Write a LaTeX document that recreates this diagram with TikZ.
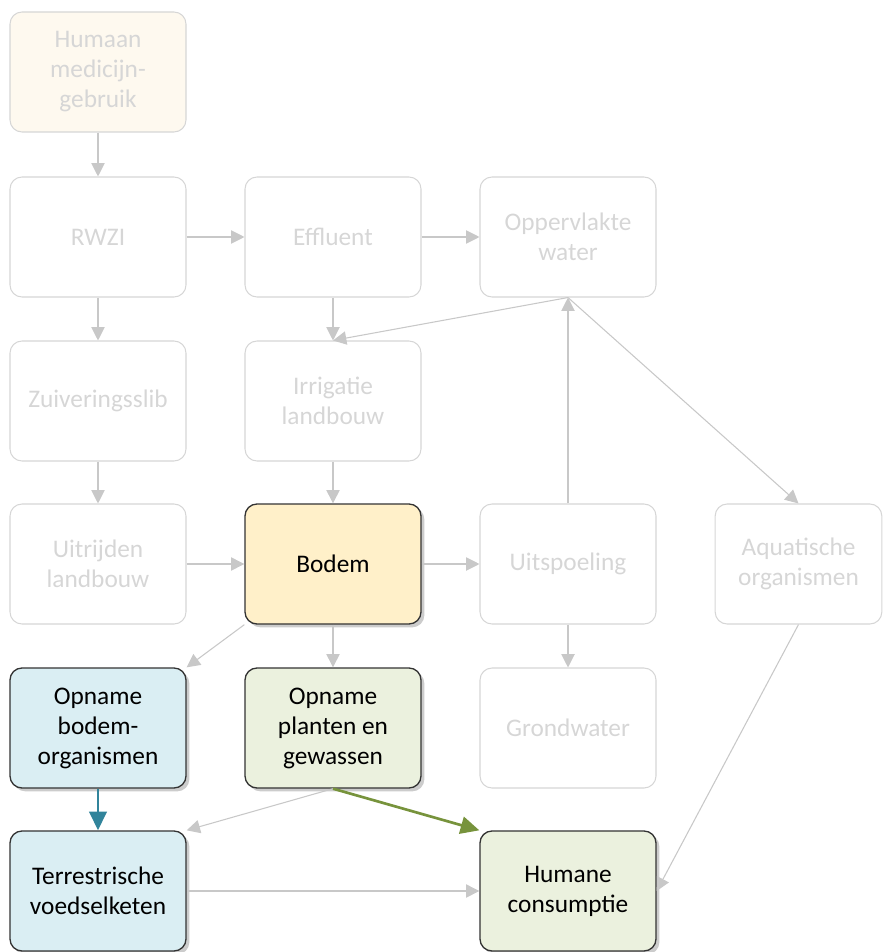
\documentclass[tikz,border=0pt]{standalone}
\usepackage{fontspec}
\setmainfont{Carlito}
\usetikzlibrary{arrows.meta,shadows}
\definecolor{lijn}{HTML}{C8C8C8}
\definecolor{vaag}{HTML}{D6D6D6}
\definecolor{bodemgeel}{HTML}{FFF0C9}
\definecolor{bodemblauw}{HTML}{DAEEF3}
\definecolor{plantgroen}{HTML}{EBF1DE}
\definecolor{medicijn}{HTML}{FEF9EF}
\definecolor{tealpijl}{HTML}{31849B}
\definecolor{groenpijl}{HTML}{77933C}

\begin{document}
\begin{tikzpicture}[x=0.75pt,y=-0.75pt,
  blok/.style={rectangle,rounded corners=9pt,minimum width=132pt,minimum height=90pt,
    align=center,inner sep=2pt,font=\fontsize{19}{22.5}\selectfont},
  vaagblok/.style={blok,draw=vaag,line width=0.8pt,text=vaag},
  felblok/.style={blok,draw=black!80,line width=1pt,text=black,
    drop shadow={shadow xshift=2.5pt,shadow yshift=-2.5pt,opacity=0.4}},
  pijl/.style={draw=lijn,line width=0.8pt,-{Triangle[length=10pt,width=10pt]}},
  dikpijl/.style={line width=2pt,-{Triangle[length=14pt,width=13pt]}}]
  \useasboundingbox (0,0) rectangle (883,952);
  % faded part of the chain
  \node[vaagblok,fill=medicijn] (hum)   at (98,72)   {Humaan\\medicijn-\\gebruik};
  \node[vaagblok] (rwzi)  at (98,237)  {RWZI};
  \node[vaagblok] (eff)   at (333,237) {Effluent};
  \node[vaagblok] (opp)   at (568,237) {Oppervlakte\\water};
  \node[vaagblok] (zui)   at (98,401)  {Zuiveringsslib};
  \node[vaagblok] (irr)   at (333,401) {Irrigatie\\landbouw};
  \node[vaagblok] (uit)   at (98,564)  {Uitrijden\\landbouw};
  \node[vaagblok] (uitsp) at (568,564) {Uitspoeling};
  \node[vaagblok,minimum width=125pt] (aqua) at (798.5,564) {Aquatische\\organismen};
  \node[vaagblok] (grw)   at (568,728) {Grondwater};
  % highlighted boxes
  \node[felblok,fill=bodemgeel]  (bod)  at (333,564) {Bodem};
  \node[felblok,fill=bodemblauw] (obo)  at (98,728)  {Opname\\bodem-\\organismen};
  \node[felblok,fill=plantgroen] (opl)  at (333,728) {Opname\\planten en\\gewassen};
  \node[felblok,fill=bodemblauw] (ter)  at (98,891)  {Terrestrische\\voedselketen};
  \node[felblok,fill=plantgroen] (hcon) at (568,891) {Humane\\consumptie};
  %
  \draw[pijl] (hum) -- (rwzi);
  \draw[pijl] (rwzi) -- (eff);
  \draw[pijl] (eff) -- (opp);
  \draw[pijl] (rwzi) -- (zui);
  \draw[pijl] (eff) -- (irr);
  \draw[pijl] (opp.south) -- (irr.north);
  \draw[pijl] (uitsp) -- (opp);
  \draw[pijl] (opp.south) -- (aqua.north);
  \draw[pijl] (zui) -- (uit);
  \draw[pijl] (irr) -- (bod);
  \draw[pijl] (uit) -- (bod);
  \draw[pijl] (bod) -- (uitsp);
  \draw[pijl] (uitsp) -- (grw);
  \draw[pijl] (bod.south west) -- (obo.north east);
  \draw[pijl] (bod) -- (opl);
  \draw[pijl] (opl.south) -- (ter.north east);
  \draw[pijl] (ter) -- (hcon);
  \draw[pijl] (aqua.south) -- (hcon.east);
  \draw[dikpijl,tealpijl] (obo) -- (ter);
  \draw[dikpijl,groenpijl] (opl.south) -- (hcon.north west);
\end{tikzpicture}
\end{document}
